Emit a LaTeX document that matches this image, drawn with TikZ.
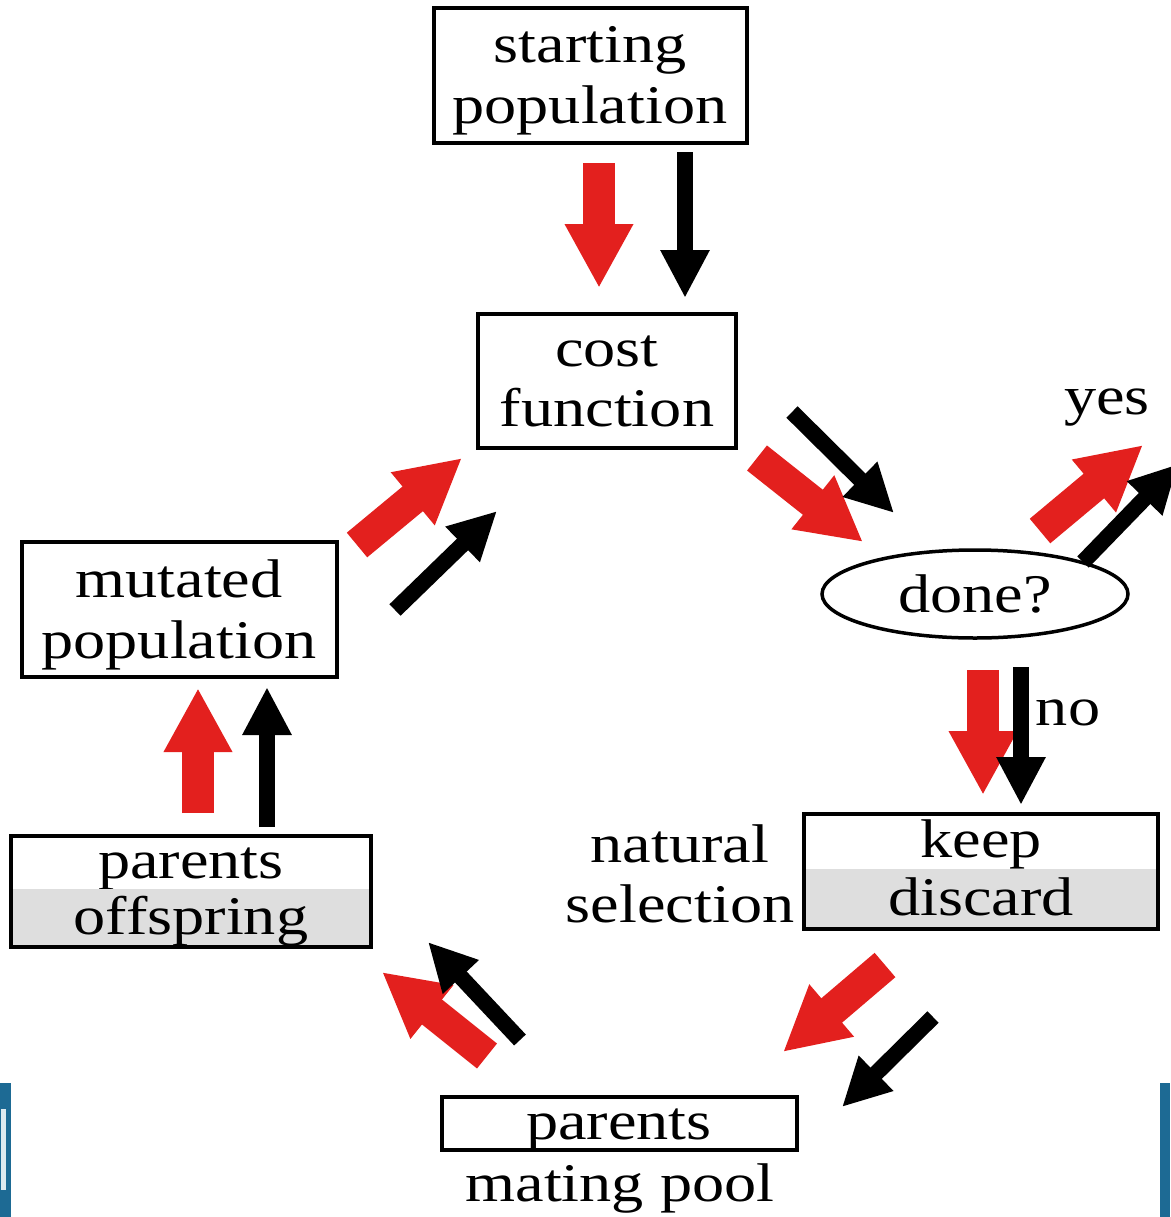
\documentclass[tikz,border=0pt]{standalone}
\usepackage{fontspec}
\setmainfont{Liberation Serif}[FakeStretch=1.18]
\usetikzlibrary{positioning,arrows.meta,shapes.geometric}
\definecolor{arrowred}{HTML}{E3201E}
\definecolor{halfgray}{HTML}{DEDEDE}
\definecolor{slideblue}{HTML}{1D6A94}

\begin{document}
\begin{tikzpicture}[
  x=0.1mm, y=-0.1mm,
  box/.style={draw, line width=0.4mm, align=center, inner sep=0pt, text depth=0pt, font=\fontsize{15.5}{17.2}\selectfont},
  half/.style={inner sep=0pt, text height=3.6mm, text depth=0.25mm, font=\fontsize{15.5}{17.2}\selectfont},
  word/.style={align=center, inner sep=0pt, font=\fontsize{15.5}{17.2}\selectfont},
  redarrow/.style={arrowred, line width=3.2mm, -{Triangle[width=6.4mm,length=6.4mm]}},
  blackarrow/.style={black, line width=1.6mm, -{Triangle[width=4.6mm,length=4.8mm]}}
]
\useasboundingbox (0,0) rectangle (1170,1217);

% slide edges
\fill[slideblue] (0,1083) rectangle (11,1217);
\fill[white!85!slideblue] (1,1109) rectangle (6,1190);
\fill[slideblue] (1160,1083) rectangle (1170,1217);

\node[box, minimum width=31.3mm, minimum height=13.5mm] (start) at (590,75) {starting\\population};
\node[box, minimum width=25.8mm, minimum height=13.4mm] (cost) at (607,381) {cost\\function};
\node[ellipse, draw, line width=0.35mm, minimum width=30.6mm, minimum height=8.8mm, inner sep=0pt,
  font=\fontsize{15.5}{17.2}\selectfont] (done) at (975,594) {done?};
\node[word] (yes) at (1107,408) {yes};
\node[word] (no) at (1068,713) {no};

\node[half, minimum width=35.3mm, minimum height=5.3mm] (keep) at (981,841) {keep};
\node[half, fill=halfgray, minimum width=35.3mm, minimum height=5.9mm, below=0pt of keep] (discard) {discard};
\draw[line width=0.4mm] (keep.north west) rectangle (discard.south east);
\node[word] (natsel) at (680,874) {natural\\selection};

\node[box, half, minimum width=35.5mm, minimum height=5.3mm] (pool) at (619,1123) {parents};
\node[word] (mating) at (620,1188) {mating pool};

\node[half, minimum width=35.8mm, minimum height=5.1mm] (parents) at (191,862) {parents};
\node[half, fill=halfgray, minimum width=35.8mm, minimum height=5.7mm, below=0pt of parents] (offspring) {offspring};
\draw[line width=0.4mm] (parents.north west) rectangle (offspring.south east);

\node[box, minimum width=31.5mm, minimum height=13.5mm] (mutated) at (179,609) {mutated\\population};

% arrow ends
\coordinate (sc-r1) at (599,163);  \coordinate (sc-r2) at (599,288);
\coordinate (sc-b1) at (685,152);  \coordinate (sc-b2) at (685,298);
\coordinate (cd-r1) at (757,458);  \coordinate (cd-r2) at (863,542);
\coordinate (cd-b1) at (792,412);  \coordinate (cd-b2) at (894,513);
\coordinate (dy-r1) at (1040,531); \coordinate (dy-r2) at (1143,445);
\coordinate (dy-b1) at (1083,562); \coordinate (dy-b2) at (1178,464);
\coordinate (dk-r1) at (983,670);  \coordinate (dk-r2) at (983,795);
\coordinate (dk-b1) at (1021,667); \coordinate (dk-b2) at (1021,805);
\coordinate (km-r1) at (885,965);  \coordinate (km-r2) at (783,1052);
\coordinate (km-b1) at (933,1017); \coordinate (km-b2) at (842,1107);
\coordinate (mo-r1) at (487,1056); \coordinate (mo-r2) at (382,972);
\coordinate (mo-b1) at (520,1040); \coordinate (mo-b2) at (428,942);
\coordinate (om-r1) at (198,813);  \coordinate (om-r2) at (198,688);
\coordinate (om-b1) at (267,827);  \coordinate (om-b2) at (267,687);
\coordinate (mc-r1) at (357,545);  \coordinate (mc-r2) at (462,458);
\coordinate (mc-b1) at (395,610);  \coordinate (mc-b2) at (497,511);

\foreach \a in {sc,cd,dy,dk,km,mo,om,mc}{
  \draw[redarrow] (\a-r1) -- (\a-r2);
  \draw[blackarrow] (\a-b1) -- (\a-b2);
}
\end{tikzpicture}
\end{document}
